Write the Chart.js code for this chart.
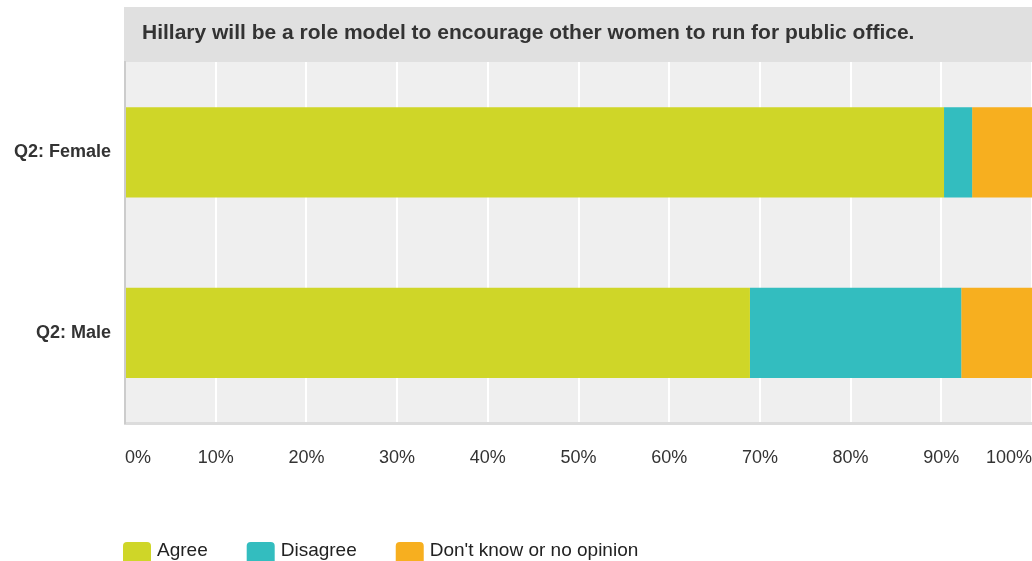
<!DOCTYPE html>
<html lang="en">
<head>
  <meta charset="UTF-8">
  <title>Hillary role model - Q2 by gender</title>
  <script src="https://cdn.jsdelivr.net/npm/chart.js"></script>
  <style>
    body {
      margin: 0;
      padding: 0;
      background: #fff;
    }
    #wrap {
      width: 1032px;
      height: 561px;
    }
  </style>
</head>
<body>
  <div id="wrap">
    <canvas id="chart" width="1032" height="561"></canvas>
  </div>

  <script>
    const titleText = 'Hillary will be a role model to encourage other women to run for public office.';
    const categories = ['Q2: Female', 'Q2: Male'];
    const seriesNames = ['Agree', 'Disagree', "Don't know or no opinion"];
    const agree = [90.3, 68.9];
    const disagree = [3.1, 23.3];
    const noOpinion = [6.6, 7.8];
    const colors = ['#cfd628', '#33bdbf', '#f7af1f'];

    const FONT = '"Liberation Sans", Arial, sans-serif';

    // grey plot background + title band
    const backdrop = {
      id: 'backdrop',
      beforeDraw(chart) {
        const ctx = chart.ctx;
        const a = chart.chartArea;
        ctx.save();
        ctx.fillStyle = '#e0e0e0';
        ctx.fillRect(124, 7, chart.width - 124, a.top - 7);
        ctx.fillStyle = '#efefef';
        ctx.fillRect(a.left, a.top, a.right - a.left, a.bottom - a.top);
        ctx.fillStyle = '#333';
        ctx.font = 'bold 21px ' + FONT;
        ctx.textBaseline = 'middle';
        ctx.fillText(titleText, 142, 33);
        ctx.restore();
      }
    };

    // legend at the bottom, drawn by hand
    const bottomLegend = {
      id: 'bottomLegend',
      afterDraw(chart) {
        const ctx = chart.ctx;
        ctx.save();
        ctx.font = '19px ' + FONT;
        ctx.textBaseline = 'middle';
        let x = 123;
        chart.data.datasets.forEach(ds => {
          ctx.fillStyle = ds.backgroundColor;
          ctx.beginPath();
          ctx.roundRect(x, 542, 28, 24, 4);
          ctx.fill();
          ctx.fillStyle = '#222';
          ctx.fillText(ds.label, x + 34, 551);
          x += 34 + ctx.measureText(ds.label).width + 39;
        });
        ctx.restore();
      }
    };

    new Chart(document.getElementById('chart'), {
      type: 'bar',
      data: {
        labels: categories,
        datasets: [
          { label: seriesNames[0], data: agree, backgroundColor: colors[0] },
          { label: seriesNames[1], data: disagree, backgroundColor: colors[1] },
          { label: seriesNames[2], data: noOpinion, backgroundColor: colors[2] }
        ]
      },
      options: {
        indexAxis: 'y',
        responsive: false,
        animation: false,
        layout: { padding: { top: 62, left: 0, right: 0, bottom: 0 } },
        datasets: {
          bar: { barPercentage: 0.5, categoryPercentage: 1, borderWidth: 0 }
        },
        plugins: {
          legend: { display: false },
          tooltip: { enabled: false }
        },
        scales: {
          x: {
            stacked: true,
            min: 0,
            max: 100,
            afterFit: s => {
              s.height = 138;
              s.paddingLeft = 0;
              s.paddingRight = 0;
            },
            grid: {
              color: c => c.index === 0 ? 'rgba(0,0,0,0)' : '#ffffff',
              lineWidth: 2,
              drawTicks: false
            },
            border: { display: true, color: '#dcdcdc', width: 3 },
            ticks: {
              stepSize: 10,
              align: 'inner',
              padding: 24,
              color: '#333',
              font: { family: FONT, size: 18 },
              callback: v => v + '%'
            }
          },
          y: {
            stacked: true,
            afterFit: s => { s.width = 125; },
            grid: { display: false, drawTicks: false },
            border: { display: true, color: '#cccccc', width: 2 },
            ticks: {
              padding: 14,
              color: '#333',
              font: { family: FONT, size: 18, weight: 'bold' }
            }
          }
        }
      },
      plugins: [backdrop, bottomLegend]
    });
  </script>
</body>
</html>
